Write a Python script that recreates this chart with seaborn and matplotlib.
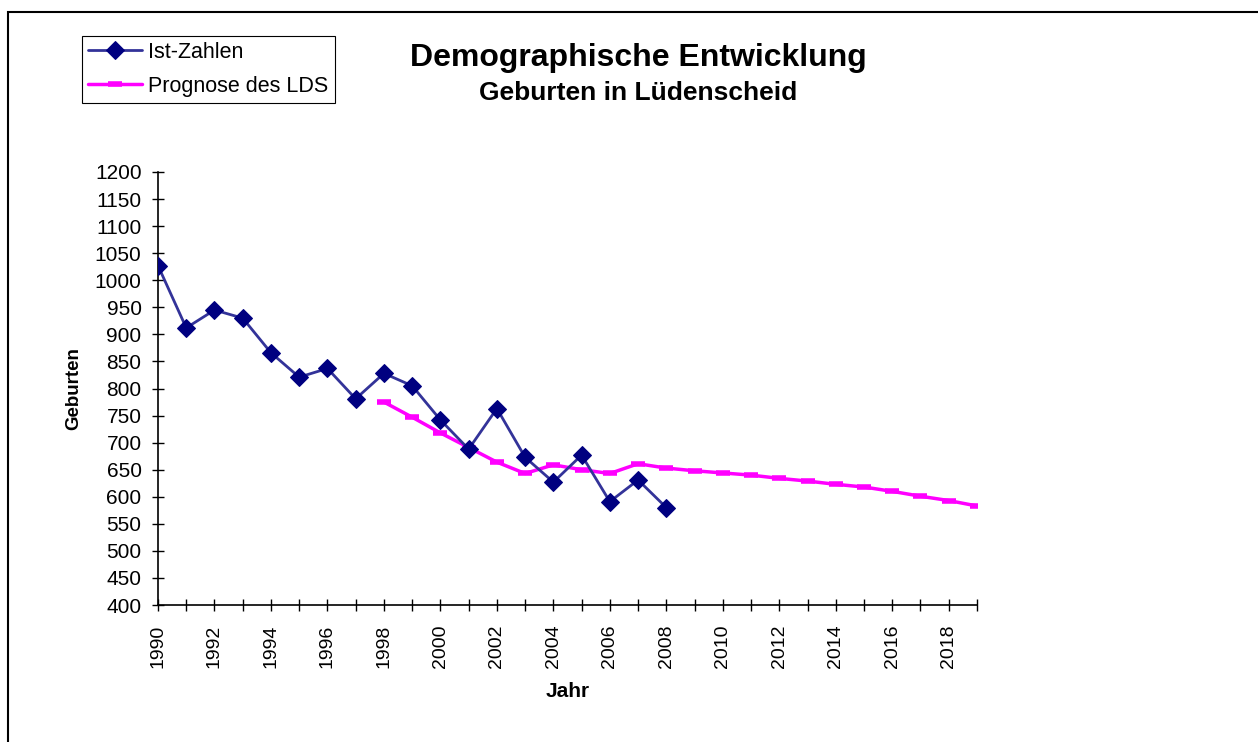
import matplotlib
matplotlib.use("Agg")
import matplotlib.pyplot as plt
import pandas as pd
import seaborn as sns
from matplotlib.patches import Rectangle

# Ist-Zahlen (actual births)
ist_years = list(range(1990, 2009))
ist_values = [1027, 912, 945, 930, 866, 821, 837, 781, 828, 805,
              742, 688, 763, 673, 627, 677, 591, 631, 580]

# Prognose des LDS (forecast)
prog_years = list(range(1998, 2020))
prog_values = [775, 747, 718, 691, 664, 643, 659, 650, 643, 661, 653,
               648, 644, 640, 634, 629, 623, 618, 610, 601, 593, 583]

all_years = list(range(1990, 2020))
y_ticks = list(range(400, 1201, 50))

sns.set_style("white")
plt.rcParams["font.family"] = ["Liberation Sans", "DejaVu Sans"]
plt.rcParams["text.color"] = "black"
plt.rcParams["axes.labelcolor"] = "black"

ist = pd.DataFrame({"Jahr": ist_years, "Geburten": ist_values})
prog = pd.DataFrame({"Jahr": prog_years, "Geburten": prog_values})

fig = plt.figure(figsize=(12.58, 7.42), dpi=100)
ax = fig.add_axes([0.1256, 0.1846, 0.651, 0.5836])

sns.lineplot(
    data=ist, x="Jahr", y="Geburten", ax=ax,
    color="#333399", linewidth=2, marker="D", markersize=9.5,
    markerfacecolor="#000080", markeredgecolor="#000080",
    label="Ist-Zahlen", zorder=3,
)
sns.lineplot(
    data=prog, x="Jahr", y="Geburten", ax=ax,
    color="#ff00ff", linewidth=2.5, marker="_", markersize=10,
    markeredgewidth=4, markeredgecolor="#ff00ff",
    label="Prognose des LDS", zorder=2,
)

ax.set_xlim(1990, 2019)
ax.set_ylim(400, 1200)
ax.set_yticks(y_ticks)
ax.set_yticklabels([str(v) for v in y_ticks], fontsize=15)
ax.set_xticks(all_years)
ax.set_xticklabels([str(y) if y % 2 == 0 else "" for y in all_years],
                   rotation=90, fontsize=14)
ax.tick_params(axis="both", direction="inout", length=9, width=1,
               color="black", labelcolor="black", bottom=True, left=True)
ax.tick_params(axis="x", pad=9.5)
ax.tick_params(axis="y", pad=7.3)

for side in ["top", "right"]:
    ax.spines[side].set_visible(False)
for side in ["left", "bottom"]:
    ax.spines[side].set_color("black")
    ax.spines[side].set_linewidth(1.2)

ax.set_xlabel("Jahr", fontsize=15, fontweight="bold", labelpad=10)
ax.set_ylabel("Geburten", fontsize=13.5, fontweight="bold", labelpad=9)

ax.get_legend().remove()
handles, labels = ax.get_legend_handles_labels()
leg = fig.legend(
    handles, labels, loc="upper left",
    bbox_to_anchor=(82 / 1258, 1 - 36 / 742),
    fontsize=15.5, frameon=True, fancybox=False, shadow=False,
    edgecolor="black", framealpha=1, handlelength=2.5,
    borderpad=0.28, labelspacing=0.6, handletextpad=0.3,
    borderaxespad=0,
)
leg.get_frame().set_linewidth(0.8)

fig.text(638 / 1258, 1 - 58 / 742, "Demographische Entwicklung",
         ha="center", va="center", fontsize=23, fontweight="bold")
fig.text(638 / 1258, 1 - 93 / 742, "Geburten in Lüdenscheid",
         ha="center", va="center", fontsize=19, fontweight="bold")

# outer frame of the chart area
fig.patches.append(Rectangle((8 / 1258, -0.1), 1.2, 1 - 12 / 742 + 0.1,
                             transform=fig.transFigure, fill=False,
                             edgecolor="black", linewidth=1.5))

fig.savefig("out.png", dpi=100)
